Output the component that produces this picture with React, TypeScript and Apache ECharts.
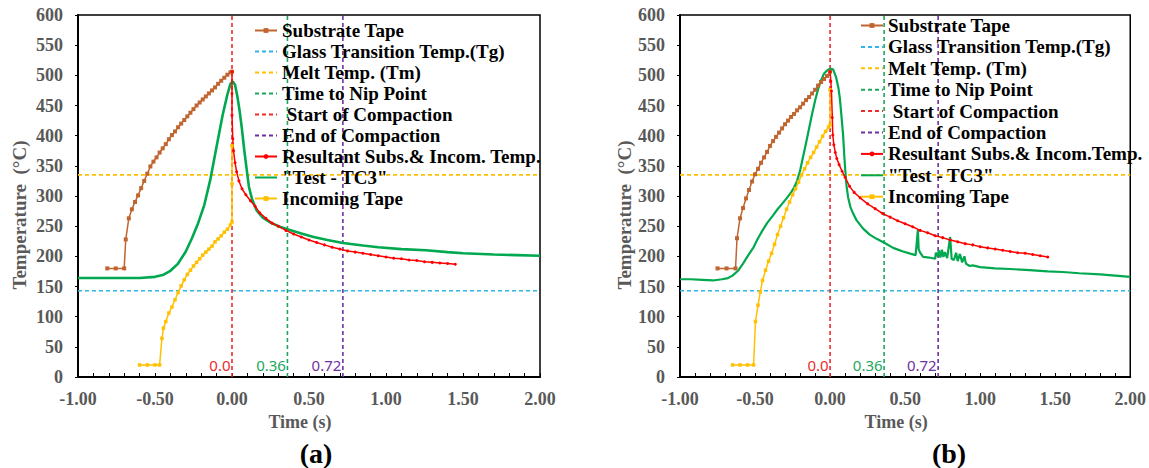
import React, { useEffect, useRef } from 'react';
import * as echarts from 'echarts';

const SERIF = '"Liberation Serif", "Times New Roman", serif';
const SANS = '"Noto Sans", "Liberation Sans", sans-serif';

// Axis ranges
const T_MIN = -1;
const T_MAX = 2;
const TEMP_MIN = 0;
const TEMP_MAX = 600;

// Reference levels (°C) and process event times (s)
const TG_TEMP = 143;
const TM_TEMP = 335;
const START_COMPACTION = 0;
const NIP_POINT = 0.36;
const END_COMPACTION = 0.72;
const EVENT_TEXTS = ['0.0', '0.36', '0.72'];

// ---- Panel (a) ----
const substrateA: [number, number][] = [
  [-0.81, 180], [-0.755, 180], [-0.70, 180], [-0.69, 228], [-0.67, 263], [-0.65, 278], [-0.63, 290],
  [-0.61, 301], [-0.59, 313], [-0.57, 325], [-0.55, 337], [-0.53, 349], [-0.51, 357], [-0.49, 364],
  [-0.47, 372], [-0.45, 379], [-0.43, 386], [-0.41, 394], [-0.39, 401], [-0.37, 407], [-0.35, 414],
  [-0.33, 420], [-0.31, 426], [-0.29, 432], [-0.27, 438], [-0.25, 444], [-0.23, 450], [-0.21, 455],
  [-0.19, 460], [-0.17, 465], [-0.15, 470], [-0.13, 475], [-0.11, 480], [-0.09, 486], [-0.07, 491],
  [-0.05, 496], [-0.03, 501], [-0.01, 505], [0.0, 506],
];
const testTC3A: [number, number][] = [
  [-1.0, 164], [-0.8, 164], [-0.6, 164], [-0.5, 166], [-0.45, 169], [-0.4, 176], [-0.35, 188],
  [-0.3, 208], [-0.26, 230], [-0.22, 255], [-0.18, 285], [-0.14, 328], [-0.1, 382], [-0.06, 435],
  [-0.03, 468], [-0.01, 486], [0.005, 490], [0.02, 484], [0.035, 465], [0.05, 440], [0.065, 410],
  [0.08, 375], [0.095, 345], [0.11, 315], [0.13, 295], [0.16, 276], [0.2, 264], [0.25, 256],
  [0.3, 250], [0.36, 245], [0.45, 238], [0.53, 232], [0.62, 227], [0.72, 222], [0.85, 218],
  [0.95, 215], [1.1, 212], [1.26, 210], [1.4, 207], [1.5, 205], [1.7, 203], [1.85, 202], [2.0, 201],
];
const resultantA: [number, number][] = [
  [0.0, 506], [0.0, 470], [0.0, 434], [0.005, 395], [0.01, 375], [0.02, 355], [0.03, 340],
  [0.045, 325], [0.065, 312], [0.09, 302], [0.12, 292], [0.15, 283], [0.18, 272], [0.22, 263],
  [0.26, 255], [0.3, 250], [0.35, 243], [0.4, 237], [0.45, 232], [0.5, 227], [0.55, 223],
  [0.6, 219], [0.65, 215], [0.7, 212], [0.75, 209], [0.8, 207], [0.85, 205], [0.9, 203],
  [0.95, 201], [1.0, 199], [1.05, 197], [1.1, 196], [1.15, 194], [1.2, 193], [1.25, 191],
  [1.3, 190], [1.35, 189], [1.4, 188], [1.45, 187],
];
const incomingA: [number, number][] = [
  [-0.6, 20], [-0.55, 20], [-0.5, 20], [-0.47, 20], [-0.455, 64], [-0.445, 81], [-0.43, 92],
  [-0.41, 106], [-0.39, 116], [-0.37, 128], [-0.35, 140], [-0.33, 151], [-0.31, 161], [-0.29, 170],
  [-0.27, 177], [-0.25, 184], [-0.23, 190], [-0.21, 196], [-0.19, 202], [-0.17, 207], [-0.15, 212],
  [-0.13, 217], [-0.11, 224], [-0.09, 229], [-0.07, 234], [-0.05, 240], [-0.03, 245], [-0.01, 252],
  [0.0, 257], [0.0, 320], [0.0, 383],
];

// ---- Panel (b) ----
const substrateB: [number, number][] = [
  [-0.75, 180], [-0.69, 180], [-0.63, 180], [-0.62, 230], [-0.6, 263], [-0.58, 280], [-0.56, 296],
  [-0.54, 310], [-0.52, 324], [-0.5, 336], [-0.48, 345], [-0.46, 355], [-0.44, 364], [-0.42, 373],
  [-0.4, 383], [-0.38, 391], [-0.36, 398], [-0.34, 405], [-0.32, 412], [-0.3, 419], [-0.28, 425],
  [-0.26, 431], [-0.24, 436], [-0.22, 442], [-0.2, 447], [-0.18, 453], [-0.16, 459], [-0.14, 464],
  [-0.12, 470], [-0.1, 476], [-0.08, 483], [-0.06, 489], [-0.04, 494], [-0.02, 499], [0.0, 506],
];
const testTC3B: [number, number][] = [
  [-1.0, 162], [-0.93, 162], [-0.85, 161], [-0.78, 160], [-0.72, 162], [-0.68, 164], [-0.65, 168],
  [-0.61, 177], [-0.58, 188], [-0.55, 200], [-0.51, 215], [-0.48, 230], [-0.45, 243], [-0.42, 255],
  [-0.38, 268], [-0.35, 278], [-0.32, 287], [-0.29, 296], [-0.26, 306], [-0.24, 314], [-0.22, 325],
  [-0.2, 342], [-0.18, 365], [-0.16, 388], [-0.14, 412], [-0.12, 436], [-0.1, 458], [-0.08, 477],
  [-0.06, 492], [-0.04, 503], [-0.02, 508], [0.0, 511], [0.02, 510], [0.04, 497], [0.055, 480],
  [0.065, 462], [0.075, 435], [0.087, 400], [0.095, 365], [0.102, 340], [0.109, 318], [0.12, 298],
  [0.135, 282], [0.155, 270], [0.176, 260], [0.22, 246], [0.264, 236], [0.31, 229], [0.364, 222],
  [0.42, 214], [0.486, 208], [0.54, 204], [0.57, 202], [0.585, 244], [0.59, 212], [0.6, 206],
  [0.62, 199], [0.66, 198], [0.7, 196], [0.705, 206], [0.715, 200], [0.725, 210], [0.735, 198],
  [0.745, 211], [0.755, 199], [0.765, 207], [0.78, 197], [0.8, 232], [0.81, 196], [0.825, 194],
  [0.84, 206], [0.85, 192], [0.865, 204], [0.88, 190], [0.895, 200], [0.905, 188], [0.93, 184],
  [0.95, 185], [1.0, 182], [1.1, 180], [1.2, 179], [1.33, 177], [1.45, 175], [1.55, 174],
  [1.66, 172], [1.8, 170], [1.9, 168], [2.0, 166],
];
const resultantB: [number, number][] = [
  [0.0, 506], [0.005, 490], [0.009, 474], [0.015, 430], [0.018, 401], [0.025, 385], [0.035, 372],
  [0.045, 362], [0.06, 352], [0.08, 341], [0.1, 331], [0.13, 316], [0.16, 306], [0.2, 297],
  [0.25, 287], [0.3, 279], [0.35, 271], [0.4, 265], [0.45, 259], [0.5, 254], [0.55, 249],
  [0.6, 243], [0.65, 239], [0.7, 234], [0.75, 231], [0.8, 227], [0.85, 224], [0.9, 221],
  [0.95, 219], [1.0, 216], [1.05, 214], [1.1, 212], [1.15, 210], [1.2, 208], [1.25, 206],
  [1.3, 205], [1.35, 203], [1.4, 201], [1.45, 199],
];
const incomingB: [number, number][] = [
  [-0.65, 20], [-0.6, 20], [-0.55, 20], [-0.51, 20], [-0.497, 92], [-0.48, 119], [-0.465, 141],
  [-0.45, 160], [-0.43, 177], [-0.41, 192], [-0.39, 205], [-0.37, 220], [-0.35, 236], [-0.33, 250],
  [-0.31, 264], [-0.29, 278], [-0.27, 290], [-0.25, 302], [-0.23, 312], [-0.21, 323], [-0.19, 335],
  [-0.17, 345], [-0.15, 355], [-0.13, 364], [-0.11, 372], [-0.09, 381], [-0.07, 390], [-0.05, 399],
  [-0.03, 407], [-0.01, 414], [0.0, 418], [0.0, 476],
];

const NAMES = {
  substrate: 'Substrate Tape',
  tg: 'Glass Transition Temp.(Tg)',
  tm: 'Melt Temp. (Tm)',
  nip: 'Time to Nip Point',
  start: ' Start of Compaction',
  end: 'End of Compaction',
  tc3: '"Test - TC3"',
  incoming: 'Incoming Tape',
};
const RESULTANT_A = 'Resultant Subs.& Incom. Temp.';
const RESULTANT_B = 'Resultant Subs.& Incom.Temp.';

const COLORS = {
  substrate: '#C0652F',
  tg: '#2FB4E6',
  tm: '#FFC000',
  nip: '#1BA85C',
  start: '#EE2A2A',
  end: '#7030A0',
  resultant: '#FF0000',
  tc3: '#00A84F',
  incoming: '#FFC000',
};

const DASH = [4, 3];

function refLine(name: string, color: string, data: [number, number][], idx: number) {
  return {
    type: 'line',
    name,
    xAxisIndex: idx,
    yAxisIndex: idx,
    data,
    symbol: 'none',
    silent: true,
    z: 1,
    lineStyle: { color, width: 1.6, type: DASH },
    itemStyle: { color },
  };
}

function curve(name: string, color: string, data: [number, number][], idx: number, symbol: string, size: number, width: number) {
  return {
    type: 'line',
    name,
    xAxisIndex: idx,
    yAxisIndex: idx,
    data,
    symbol,
    symbolSize: size,
    showSymbol: symbol !== 'none',
    showAllSymbol: true,
    silent: true,
    z: 3,
    lineStyle: { color, width },
    itemStyle: { color },
  };
}

function panelSeries(idx: number, sub: [number, number][], tc3: [number, number][], res: [number, number][], inc: [number, number][], resName: string) {
  return [
    refLine(NAMES.tg, COLORS.tg, [[T_MIN, TG_TEMP], [T_MAX, TG_TEMP]], idx),
    refLine(NAMES.tm, COLORS.tm, [[T_MIN, TM_TEMP], [T_MAX, TM_TEMP]], idx),
    refLine(NAMES.nip, COLORS.nip, [[NIP_POINT, TEMP_MIN], [NIP_POINT, TEMP_MAX]], idx),
    refLine(NAMES.start, COLORS.start, [[START_COMPACTION, TEMP_MIN], [START_COMPACTION, TEMP_MAX]], idx),
    refLine(NAMES.end, COLORS.end, [[END_COMPACTION, TEMP_MIN], [END_COMPACTION, TEMP_MAX]], idx),
    curve(NAMES.substrate, COLORS.substrate, sub, idx, 'rect', 4, 1.5),
    curve(NAMES.incoming, COLORS.incoming, inc, idx, 'rect', 3.5, 1.5),
    curve(NAMES.tc3, COLORS.tc3, tc3, idx, 'none', 0, idx === 0 ? 2.6 : 2.2),
    curve(resName, COLORS.resultant, res, idx, 'circle', 3, 1.5),
    {
      // event times written just left of each vertical marker, near the time axis
      type: 'scatter',
      xAxisIndex: idx,
      yAxisIndex: idx,
      silent: true,
      z: 5,
      symbol: 'circle',
      symbolSize: 1,
      itemStyle: { color: 'rgba(0,0,0,0)', opacity: 1 },
      data: [START_COMPACTION, NIP_POINT, END_COMPACTION].map((t, i) => ({
        value: [t, 20],
        label: {
          show: true,
          formatter: EVENT_TEXTS[i],
          position: 'left',
          distance: 1,
          opacity: 1,
          color: [COLORS.start, COLORS.nip, COLORS.end][i],
          fontFamily: SANS,
          fontSize: 15,
        },
      })),
    },
  ];
}

const axisText = { fontFamily: SERIF, fontWeight: 'bold', fontSize: 18, color: '#595959' };

function xAxis(idx: number) {
  return {
    type: 'value',
    gridIndex: idx,
    min: T_MIN,
    max: T_MAX,
    interval: 0.5,
    axisLine: { show: true, onZero: false, lineStyle: { color: '#000', width: 2 } },
    axisTick: { show: true, inside: true, length: 4, lineStyle: { color: '#000', width: 1 } },
    minorTick: { show: true, splitNumber: 5, length: 4, lineStyle: { color: '#000', width: 1 } },
    splitLine: { show: false },
    axisLabel: { ...axisText, margin: 13, formatter: (v: number) => v.toFixed(2) },
    name: 'Time (s)',
    nameLocation: 'middle',
    nameGap: 35,
    nameTextStyle: { ...axisText, padding: [0, 18, 0, 0] },
  };
}

function yAxis(idx: number, gap: number) {
  return {
    type: 'value',
    gridIndex: idx,
    min: TEMP_MIN,
    max: TEMP_MAX,
    interval: 50,
    axisLine: { show: true, onZero: false, lineStyle: { color: '#000', width: 2 } },
    axisTick: { show: true, length: 3, lineStyle: { color: '#000', width: 1 } },
    splitLine: { show: false },
    axisLabel: { ...axisText, margin: 15 },
    name: 'Temperature  (°C)',
    nameLocation: 'middle',
    nameGap: gap,
    nameTextStyle: { ...axisText, fontSize: 19, padding: [0, 38, 0, 0] },
  };
}

const legendText = { fontFamily: SERIF, fontWeight: 'bold', fontSize: 19, color: '#000' };
const hiddenMark = { opacity: 0 };

function legendData(resName: string) {
  return [
    { name: NAMES.substrate },
    { name: NAMES.tg, itemStyle: hiddenMark },
    { name: NAMES.tm, itemStyle: hiddenMark },
    { name: NAMES.nip, itemStyle: hiddenMark },
    { name: NAMES.start, itemStyle: hiddenMark },
    { name: NAMES.end, itemStyle: hiddenMark },
    { name: resName },
    { name: NAMES.tc3, itemStyle: hiddenMark },
    { name: NAMES.incoming },
  ];
}

const option = {
  animation: false,
  backgroundColor: '#fff',
  grid: [
    { left: 78, top: 15, width: 462, height: 362, show: true, borderColor: '#000', borderWidth: 1.5, backgroundColor: 'transparent' },
    { left: 680, top: 15, width: 451, height: 362, show: true, borderColor: '#000', borderWidth: 1.5, backgroundColor: 'transparent' },
  ],
  xAxis: [xAxis(0), xAxis(1)],
  yAxis: [yAxis(0, 49), yAxis(1, 46)],
  legend: [
    {
      orient: 'vertical', left: 249, top: 16, padding: 5, itemWidth: 22, itemHeight: 6, itemGap: 2,
      selectedMode: false, textStyle: legendText, data: legendData(RESULTANT_A),
    },
    {
      orient: 'vertical', left: 855, top: 11, padding: 5, itemWidth: 22, itemHeight: 6, itemGap: 2.4,
      selectedMode: false, textStyle: legendText, data: legendData(RESULTANT_B),
    },
  ],
  graphic: [
    { type: 'text', x: 316, y: 453, style: { text: '(a)', fontFamily: SERIF, fontWeight: 'bold', fontSize: 28, fill: '#000', align: 'center', verticalAlign: 'middle' } },
    { type: 'text', x: 949, y: 453, style: { text: '(b)', fontFamily: SERIF, fontWeight: 'bold', fontSize: 28, fill: '#000', align: 'center', verticalAlign: 'middle' } },
  ],
  series: [
    ...panelSeries(0, substrateA, testTC3A, resultantA, incomingA, RESULTANT_A),
    ...panelSeries(1, substrateB, testTC3B, resultantB, incomingB, RESULTANT_B),
  ],
};

export default function App() {
  const ref = useRef<HTMLDivElement>(null);
  useEffect(() => {
    if (!ref.current) return;
    const chart = echarts.init(ref.current, undefined, { renderer: 'svg' });
    chart.setOption(option as any);
    return () => chart.dispose();
  }, []);
  return (
    <div
      ref={ref}
      style={{ position: 'absolute', left: 0, top: 0, width: 1149, height: 468, background: '#fff' }}
    />
  );
}
